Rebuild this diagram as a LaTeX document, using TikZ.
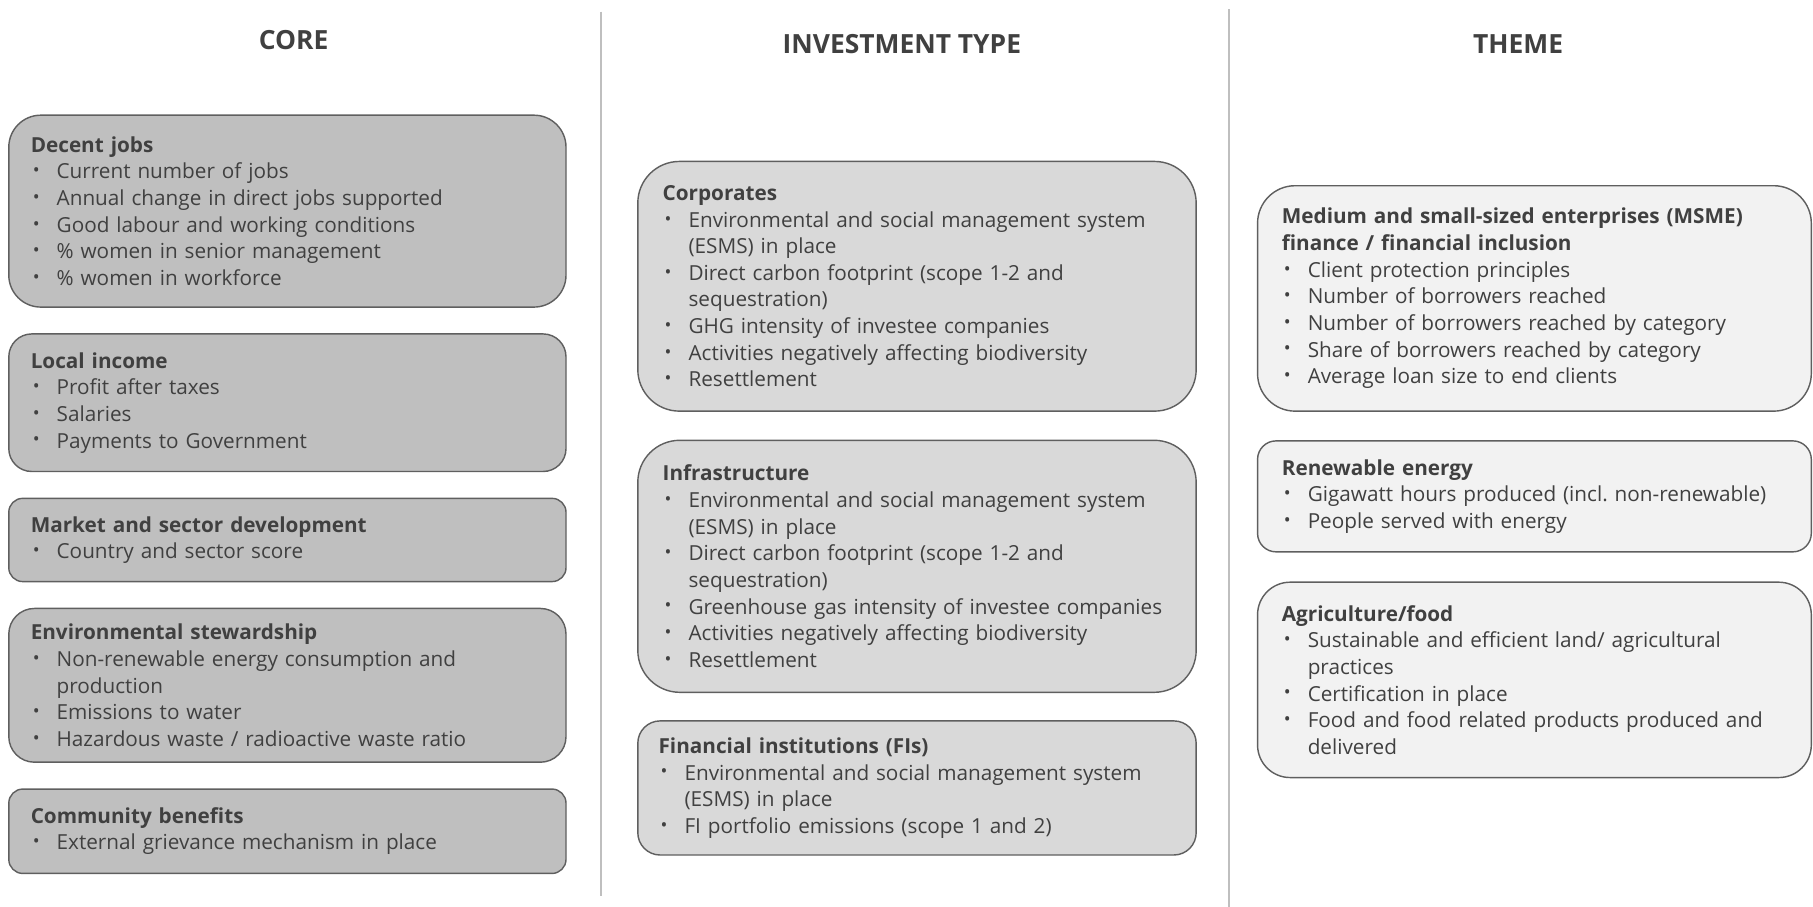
\documentclass[tikz,border=0pt]{standalone}
\usepackage{fontspec}
\setmainfont{Open Sans}
\usepackage{tikz}
\usetikzlibrary{positioning}
\definecolor{textgray}{HTML}{404040}
\definecolor{boxline}{HTML}{5F5F5F}
\definecolor{corefill}{HTML}{BFBFBF}
\definecolor{typefill}{HTML}{D9D9D9}
\definecolor{themefill}{HTML}{F2F2F2}
\definecolor{rulegray}{HTML}{BFBFBF}
\frenchspacing
\hyphenpenalty=10000
\exhyphenpenalty=10000
\newcommand{\boxhead}[1]{\noindent{\bfseries #1}\par}
\newcommand{\bitem}[1]{\hangindent=1.25em\hangafter=1\noindent\makebox[1.25em][l]{\hspace{0.1em}\raisebox{0.1em}{\fontsize{9}{9}\selectfont\textbullet}}#1\par}
\tikzset{
    mybox/.style={rectangle, draw=boxline, line width=0.7pt, align=left, text=textgray,
      font=\fontsize{10.2}{13.1}\selectfont, inner ysep=0pt},
    boxh/.style={minimum height=#1, rounded corners={#1/6}},
    corebox/.style={mybox, fill=corefill, inner xsep=0.38cm, text width=8.88cm},
    typebox/.style={mybox, fill=typefill, inner xsep=0.43cm, text width=8.8cm},
    themebox/.style={mybox, fill=themefill, inner xsep=0.42cm, text width=8.74cm},
    coltitle/.style={font=\fontsize{13}{15}\selectfont\bfseries, text=textgray},
    colrule/.style={draw=rulegray, line width=0.8pt}
}

\begin{document}
\begin{tikzpicture}[x=0.02cm, y=0.02cm]
    \useasboundingbox (0,0) rectangle (1568,-784);

    % column titles
    \node[coltitle] (coretitle) at (254,-35) {CORE};
    \node[coltitle] (typetitle) at (780,-38) {INVESTMENT TYPE};
    \node[coltitle] (themetitle) at (1313,-38) {THEME};

    \draw[colrule] (520,-10) -- (520,-775);
    \draw[colrule] (1063,-8) -- (1063,-784);

    % core
    \node[corebox, boxh=3.32cm, anchor=north west] (jobs) at (7,-99)
      {\boxhead{Decent jobs}
       \bitem{Current number of jobs}
       \bitem{Annual change in direct jobs supported}
       \bitem{Good labour and working conditions}
       \bitem{\% women in senior management}
       \bitem{\% women in workforce}};
    \node[corebox, boxh=2.38cm, below=0.44cm of jobs] (income)
      {\boxhead{Local income}
       \bitem{Profit after taxes}
       \bitem{Salaries}
       \bitem{Payments to Government}};
    \node[corebox, boxh=1.44cm, below=0.44cm of income] (market)
      {\boxhead{Market and sector development}
       \bitem{Country and sector score}};
    \node[corebox, boxh=2.66cm, below=0.44cm of market] (stewardship)
      {\boxhead{Environmental stewardship}
       \bitem{Non-renewable energy consumption and\newline production}
       \bitem{Emissions to water}
       \bitem{Hazardous waste / radioactive waste ratio}};
    \node[corebox, boxh=1.46cm, below=0.44cm of stewardship] (community)
      {\boxhead{Community benefits}
       \bitem{External grievance mechanism in place}};

    % investment type
    \node[typebox, boxh=4.32cm, anchor=north west] (corporates) at (551,-139)
      {\boxhead{Corporates}
       \bitem{Environmental and social management system\newline (ESMS) in place}
       \bitem{Direct carbon footprint (scope 1-2 and\newline sequestration)}
       \bitem{GHG intensity of investee companies}
       \bitem{Activities negatively affecting biodiversity}
       \bitem{Resettlement}};
    \node[typebox, boxh=4.36cm, below=0.48cm of corporates] (infra)
      {\boxhead{Infrastructure}
       \bitem{Environmental and social management system\newline (ESMS) in place}
       \bitem{Direct carbon footprint (scope 1-2 and\newline sequestration)}
       \bitem{Greenhouse gas intensity of investee companies}
       \bitem{Activities negatively affecting biodiversity}
       \bitem{Resettlement}};
    \node[typebox, boxh=2.32cm, below=0.47cm of infra, inner xsep=0.36cm, text width=8.94cm] (fis)
      {\boxhead{Financial institutions (FIs)}
       \bitem{Environmental and social management system\newline (ESMS) in place}
       \bitem{FI portfolio emissions (scope 1 and 2)}};

    % theme
    \node[themebox, boxh=3.9cm, anchor=north west] (msme) at (1087,-160)
      {\boxhead{Medium and small-sized enterprises (MSME)\newline finance / financial inclusion}
       \bitem{Client protection principles}
       \bitem{Number of borrowers reached}
       \bitem{Number of borrowers reached by category}
       \bitem{Share of borrowers reached by category}
       \bitem{Average loan size to end clients}};
    \node[themebox, boxh=1.92cm, below=0.49cm of msme] (renewable)
      {\boxhead{Renewable energy}
       \bitem{Gigawatt hours produced (incl. non-renewable)}
       \bitem{People served with energy}};
    \node[themebox, boxh=3.38cm, below=0.5cm of renewable] (agri)
      {\boxhead{Agriculture/food}
       \bitem{Sustainable and efficient land/ agricultural\newline practices}
       \bitem{Certification in place}
       \bitem{Food and food related products produced and\newline delivered}};
\end{tikzpicture}
\end{document}
